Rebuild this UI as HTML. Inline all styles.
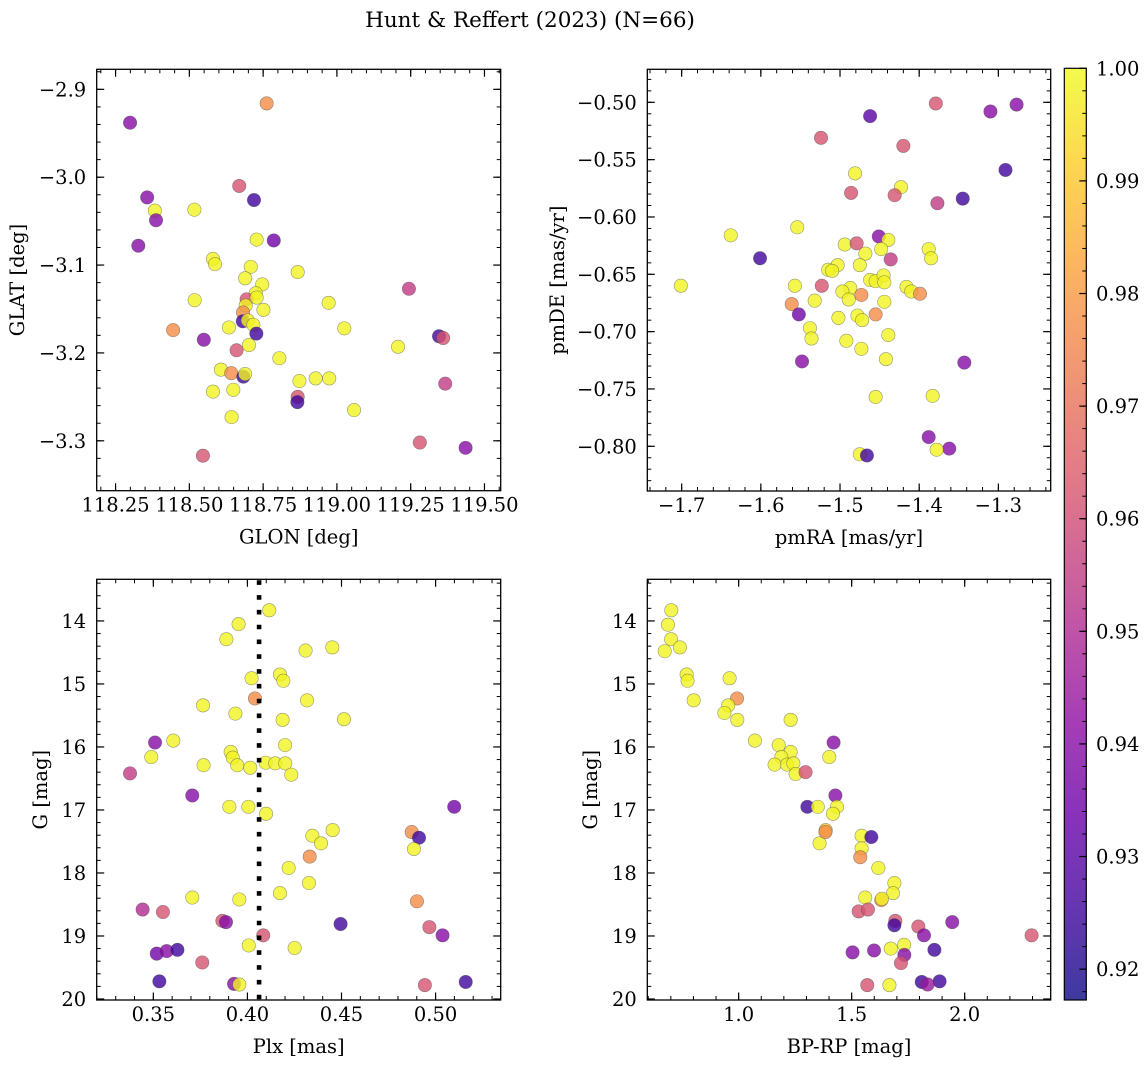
<!DOCTYPE html>
<html><head><meta charset="utf-8"><style>
html,body{margin:0;padding:0;background:#fff;}
svg{display:block;font-family:"DejaVu Serif","Liberation Serif",serif;}
</style></head><body>
<svg id="fig" width="1148" height="1068" viewBox="0 0 1148 1068" xmlns="http://www.w3.org/2000/svg">
<text x="530" y="27" font-size="21.5" text-anchor="middle">Hunt &amp; Reffert (2023) (N=66)</text>
<defs><linearGradient id="cbgrad" x1="0" y1="1" x2="0" y2="0"></linearGradient></defs>
</svg>
<script>
// ---- Panel 1 data: GLON vs GLAT ----
const p1Glon=[118.299,118.762,118.669,118.719,118.357,118.383,118.387,118.517,118.327,118.728,118.786,118.580,118.587,118.708,118.689,118.867,118.747,118.725,118.694,118.728,118.691,118.751,118.682,118.681,118.698,118.717,118.727,118.518,118.445,118.549,118.634,118.702,118.660,118.805,118.607,118.642,118.683,118.689,118.580,118.649,118.643,118.546,118.867,118.866,118.873,118.928,118.974,118.972,119.025,119.058,119.207,119.244,119.346,119.360,119.367,119.281,119.436];
const p1Glat=[-2.938,-2.916,-3.010,-3.026,-3.023,-3.038,-3.049,-3.037,-3.078,-3.071,-3.072,-3.093,-3.099,-3.102,-3.115,-3.108,-3.122,-3.132,-3.139,-3.137,-3.146,-3.151,-3.154,-3.164,-3.163,-3.168,-3.178,-3.140,-3.174,-3.185,-3.171,-3.191,-3.197,-3.206,-3.219,-3.223,-3.227,-3.224,-3.244,-3.242,-3.273,-3.317,-3.250,-3.256,-3.232,-3.229,-3.229,-3.143,-3.172,-3.265,-3.193,-3.127,-3.181,-3.183,-3.235,-3.302,-3.308];
const p1Prob=[.94,.977,.962,.925,.94,.999,.94,.999,.94,.999,.935,.999,.999,.999,.999,.999,.999,.999,.962,.999,.999,.999,.977,.925,.999,.999,.925,.999,.977,.94,.999,.999,.962,.999,.999,.977,.925,.999,.999,.999,.999,.962,.962,.925,.999,.999,.999,.999,.999,.999,.999,.955,.925,.962,.955,.962,.94];
// ---- Panel 2 data: pmRA vs pmDE ----
const p2PmRA=[-1.701,-1.638,-1.601,-1.524,-1.462,-1.379,-1.310,-1.277,-1.291,-1.345,-1.420,-1.481,-1.486,-1.423,-1.431,-1.377,-1.554,-1.451,-1.439,-1.494,-1.479,-1.468,-1.448,-1.436,-1.388,-1.385,-1.503,-1.515,-1.510,-1.475,-1.462,-1.455,-1.445,-1.444,-1.557,-1.523,-1.487,-1.497,-1.489,-1.473,-1.416,-1.410,-1.399,-1.532,-1.561,-1.552,-1.444,-1.502,-1.478,-1.472,-1.455,-1.538,-1.536,-1.492,-1.473,-1.439,-1.442,-1.548,-1.343,-1.455,-1.383,-1.388,-1.362,-1.378,-1.475,-1.466];
const p2PmDE=[-0.660,-0.616,-0.636,-0.531,-0.512,-0.501,-0.508,-0.502,-0.559,-0.584,-0.538,-0.562,-0.579,-0.574,-0.581,-0.588,-0.609,-0.617,-0.620,-0.624,-0.623,-0.632,-0.628,-0.637,-0.628,-0.636,-0.642,-0.646,-0.647,-0.642,-0.655,-0.656,-0.651,-0.657,-0.660,-0.660,-0.662,-0.665,-0.672,-0.668,-0.661,-0.665,-0.667,-0.673,-0.676,-0.685,-0.674,-0.688,-0.686,-0.690,-0.685,-0.697,-0.706,-0.708,-0.715,-0.703,-0.724,-0.726,-0.727,-0.757,-0.756,-0.792,-0.802,-0.803,-0.807,-0.808];
const p2Prob=[.999,.999,.925,.962,.93,.962,.94,.94,.925,.925,.962,.999,.962,.999,.962,.955,.999,.94,.999,.999,.962,.999,.999,.955,.999,.999,.999,.999,.999,.999,.999,.999,.999,.999,.999,.962,.999,.999,.999,.977,.999,.999,.977,.999,.977,.935,.999,.999,.999,.999,.977,.999,.999,.999,.999,.999,.999,.94,.94,.999,.999,.94,.94,.999,.999,.925];
// ---- Panel 3 data: Plx vs G ----
const p3Plx=[.4116,.3953,.3888,.4309,.4451,.4173,.4191,.4022,.4040,.4317,.3764,.3936,.4187,.4513,.3509,.3606,.3489,.4200,.3911,.3922,.3946,.3767,.4015,.4097,.4148,.4201,.4233,.3376,.3707,.3904,.4005,.4099,.4345,.4391,.4453,.4873,.4912,.4885,.5099,.4331,.4219,.4327,.4173,.3707,.3957,.4901,.3443,.3551,.3867,.3886,.4495,.4967,.5037,.4084,.4007,.4251,.3518,.3571,.3628,.3760,.3532,.3929,.3957,.4943,.5160];
const p3G=[13.83,14.05,14.29,14.47,14.42,14.85,14.95,14.91,15.23,15.26,15.34,15.47,15.57,15.56,15.93,15.90,16.16,15.97,16.08,16.17,16.29,16.29,16.33,16.25,16.26,16.26,16.44,16.42,16.77,16.95,16.95,17.06,17.41,17.53,17.32,17.35,17.44,17.62,16.95,17.74,17.92,18.16,18.32,18.39,18.42,18.45,18.58,18.62,18.76,18.78,18.81,18.86,18.99,18.99,19.15,19.19,19.28,19.24,19.22,19.42,19.72,19.76,19.77,19.78,19.73];
const p3Prob=[.999,.999,.999,.999,.999,.999,.999,.999,.977,.999,.999,.999,.999,.999,.94,.999,.999,.999,.999,.999,.999,.999,.999,.999,.999,.999,.999,.955,.94,.999,.999,.999,.999,.999,.999,.977,.925,.999,.935,.977,.999,.999,.999,.999,.999,.977,.95,.962,.962,.94,.925,.962,.94,.962,.999,.999,.935,.94,.925,.962,.925,.94,.999,.962,.925];
const parallaxRef=[0.4062];
// ---- Panel 4 data: BP-RP vs G ----
const p4BpRp=[.702,.687,.701,.740,.673,.770,.774,.960,.801,.993,.954,.937,.994,1.230,1.072,1.177,1.420,1.401,1.230,1.189,1.159,1.214,1.242,1.252,1.296,1.428,1.304,1.350,1.435,1.417,1.358,1.385,1.384,1.544,1.587,1.544,1.538,1.618,1.689,1.683,1.560,1.631,1.634,1.531,1.572,1.693,1.689,1.795,1.945,1.820,2.296,1.504,1.599,1.673,1.732,1.733,1.718,1.866,1.569,1.667,1.810,1.889,1.836];
const p4G=[13.83,14.06,14.29,14.42,14.48,14.85,14.95,14.91,15.26,15.23,15.34,15.46,15.57,15.57,15.90,15.97,15.93,16.16,16.08,16.16,16.28,16.28,16.26,16.43,16.40,16.77,16.95,16.95,16.95,17.06,17.53,17.32,17.35,17.41,17.43,17.61,17.75,17.92,18.16,18.32,18.39,18.43,18.41,18.61,18.58,18.76,18.83,18.85,18.78,18.99,18.99,19.26,19.23,19.20,19.14,19.30,19.43,19.22,19.78,19.78,19.73,19.72,19.77];
const p4Prob=[.999,.999,.999,.999,.999,.999,.999,.999,.999,.977,.999,.999,.999,.999,.999,.999,.94,.999,.999,.999,.999,.999,.999,.999,.962,.94,.925,.999,.999,.999,.999,.99,.977,.999,.925,.999,.977,.999,.999,.999,.999,.977,.999,.962,.962,.962,.925,.962,.94,.94,.962,.94,.94,.999,.999,.94,.962,.925,.962,.999,.925,.925,.945];
// ---- tick labels ----
const p1XTicks=[118.25,118.50,118.75,119.00,119.25,119.50];
const p1YTicks=[-2.9,-3.0,-3.1,-3.2,-3.3];
const p2XTicks=[-1.7,-1.6,-1.5,-1.4,-1.3];
const p2YTicks=[-0.50,-0.55,-0.60,-0.65,-0.70,-0.75,-0.80];
const p3XTicks=[0.35,0.40,0.45,0.50];
const p4XTicks=[1.0,1.5,2.0];
const gTicks=[14,15,16,17,18,19,20];
const cbTicks=[0.92,0.93,0.94,0.95,0.96,0.97,0.98,0.99,1.00];

const FS=19.5;
const NS="http://www.w3.org/2000/svg";
const svg=document.getElementById('fig');
function mk(tag,attrs,parent){const e=document.createElementNS(NS,tag);for(const k in attrs)e.setAttribute(k,attrs[k]);(parent||svg).appendChild(e);return e;}
const CMIN=0.91726, CMAX=1.0;
const plasma=[[13,8,135],[65,4,157],[106,0,168],[143,13,164],[177,42,144],[204,71,120],[225,100,98],[242,132,75],[252,166,54],[252,206,37],[240,249,33]];
function cmap(t){t=Math.max(0,Math.min(1,t));const f=t*10,i=Math.min(9,Math.floor(f)),r=f-i;const a=plasma[i],b=plasma[i+1];return 'rgb('+[0,1,2].map(k=>Math.round(a[k]+(b[k]-a[k])*r)).join(',')+')';}
function colorOf(p){return cmap((p-CMIN)/(CMAX-CMIN));}
function fmt(v,d){const s=v.toFixed(d);return s.replace('-','\u2212');}

function panel(cfg){
  const g=mk('g',{});
  
  
  const [x0,y0,x1,y1]=cfg.box;
  const sx=v=>x0+(v-cfg.xd[0])/(cfg.xd[1]-cfg.xd[0])*(x1-x0);
  const sy=cfg.yInv?(v=>y0+(v-cfg.yd[0])/(cfg.yd[1]-cfg.yd[0])*(y1-y0)):(v=>y1-(v-cfg.yd[0])/(cfg.yd[1]-cfg.yd[0])*(y1-y0));
  const pts=mk('g',{},g);
  
  
  for(let i=0;i<cfg.xs.length;i++){
    const c=mk('circle',{cx:sx(cfg.xs[i]).toFixed(2),cy:sy(cfg.ys[i]).toFixed(2),r:6.7,fill:colorOf(cfg.ps[i]),'fill-opacity':0.8,stroke:'rgba(70,70,70,0.55)','stroke-width':0.6},pts);
    
    
  }
  if(cfg.vline){
    for(const v of cfg.vline){
      const l=mk('line',{x1:sx(v),x2:sx(v),y1:y0+1,y2:y1,stroke:'#000','stroke-width':4.6,'stroke-dasharray':'4.6 10.2'},g);
      
      
    }
  }
  const tk=mk('g',{stroke:'#000','stroke-width':1},g);
  function ticksX(step,len){const a=Math.ceil(cfg.xd[0]/step-1e-9),b=Math.floor(cfg.xd[1]/step+1e-9);for(let i=a;i<=b;i++){const x=sx(i*step);mk('line',{x1:x,x2:x,y1:y1,y2:y1-len},tk);mk('line',{x1:x,x2:x,y1:y0,y2:y0+len},tk);}}
  function ticksY(step,len){const lo=Math.min(...cfg.yd),hi=Math.max(...cfg.yd);const a=Math.ceil(lo/step-1e-9),b=Math.floor(hi/step+1e-9);for(let i=a;i<=b;i++){const y=sy(i*step);mk('line',{x1:x0,x2:x0+len,y1:y,y2:y},tk);mk('line',{x1:x1,x2:x1-len,y1:y,y2:y},tk);}}
  ticksX(cfg.xMinor,4);ticksY(cfg.yMinor,4);
  const mj=mk('g',{stroke:'#000','stroke-width':1.2},g);
  for(const v of cfg.xt){const x=sx(v);mk('line',{x1:x,x2:x,y1:y1,y2:y1-7.5},mj);mk('line',{x1:x,x2:x,y1:y0,y2:y0+7.5},mj);}
  for(const v of cfg.yt){const y=sy(v);mk('line',{x1:x0,x2:x0+7.5,y1:y,y2:y},mj);mk('line',{x1:x1,x2:x1-7.5,y1:y,y2:y},mj);}
  const fr=mk('rect',{x:x0,y:y0,width:x1-x0,height:y1-y0,fill:'none',stroke:'#000','stroke-width':1.3},g);
  
  
  for(const v of cfg.xt){const t=mk('text',{x:sx(v),y:y1+21,'font-size':FS,'text-anchor':'middle'},g);t.textContent=fmt(v,cfg.xdec);
    
    }
  for(const v of cfg.yt){const t=mk('text',{x:x0-10.5,y:sy(v)+7,'font-size':FS,'text-anchor':'end'},g);t.textContent=fmt(v,cfg.ydec);
    
    }
  const xl=mk('text',{x:(x0+x1)/2,y:y1+53,'font-size':FS,'text-anchor':'middle'},g);xl.textContent=cfg.xlabel;
  
  
  const yc=(y0+y1)/2;
  const yl=mk('text',{x:cfg.ylx,y:yc,'font-size':FS,'text-anchor':'middle',transform:'rotate(-90 '+cfg.ylx+' '+yc+')'},g);yl.textContent=cfg.ylabel;
  
  
}
panel({name:'glon-glat-panel',box:[96.7,69.3,500.7,490.7],xd:[118.186,119.555],yd:[-3.3568,-2.8772],xs:p1Glon,ys:p1Glat,ps:p1Prob,xt:p1XTicks,yt:p1YTicks,xMinor:0.05,yMinor:0.02,xdec:2,ydec:1,xlabel:'GLON [deg]',ylabel:'GLAT [deg]',ylx:24});
panel({name:'proper-motion-panel',box:[647.3,69.3,1050.7,491],xd:[-1.7434,-1.2339],yd:[-0.8390,-0.4712],xs:p2PmRA,ys:p2PmDE,ps:p2Prob,xt:p2XTicks,yt:p2YTicks,xMinor:0.02,yMinor:0.01,xdec:1,ydec:2,xlabel:'pmRA [mas/yr]',ylabel:'pmDE [mas/yr]',ylx:564});
panel({name:'parallax-magnitude-panel',box:[96.7,579.3,500.7,1000],xd:[0.3199,0.5346],yd:[13.339,20.016],yInv:true,xs:p3Plx,ys:p3G,ps:p3Prob,xt:p3XTicks,yt:gTicks,xMinor:0.01,yMinor:0.2,xdec:2,ydec:0,xlabel:'Plx [mas]',ylabel:'G [mag]',ylx:47});
panel({name:'color-magnitude-panel',box:[647.3,579.3,1050.7,1000],xd:[0.5959,2.3805],yd:[13.339,20.016],yInv:true,xs:p4BpRp,ys:p4G,ps:p4Prob,xt:p4XTicks,yt:gTicks,xMinor:0.1,yMinor:0.2,xdec:1,ydec:0,xlabel:'BP-RP [mag]',ylabel:'G [mag]',ylx:597});
// parallax reference line drawn inside panel 3
(function(){
  const x0=96.7,x1=500.7,y0=579.3,y1=1000,d0=0.3199,d1=0.5346;
  for(const v of parallaxRef){
    const x=x0+(v-d0)/(d1-d0)*(x1-x0);
    const l=mk('line',{x1:x,x2:x,y1:y0+1,y2:y1,stroke:'#000','stroke-width':4.6,'stroke-dasharray':'4.6 10.2'});
    
    
  }
})();

const grad=document.getElementById('cbgrad');
for(let i=0;i<=20;i++){mk('stop',{offset:(i/20),'stop-color':cmap(i/20),'stop-opacity':0.8},grad);}
const cb=mk('g',{});


const cbx0=1064.3,cbx1=1086.3,cby0=68.3,cby1=1000;
mk('rect',{x:cbx0,y:cby0,width:cbx1-cbx0,height:cby1-cby0,fill:'url(#cbgrad)'},cb);
const cy=v=>cby1-(v-CMIN)/(CMAX-CMIN)*(cby1-cby0);
for(let i=Math.ceil(CMIN/0.002-1e-9);i*0.002<=CMAX+1e-9;i++){const y=cy(i*0.002);mk('line',{x1:cbx1,x2:cbx1-4,y1:y,y2:y,stroke:'#000','stroke-width':1},cb);}
for(const v of cbTicks){const y=cy(v);mk('line',{x1:cbx1,x2:cbx1-7,y1:y,y2:y,stroke:'#000','stroke-width':1.2},cb);
  const t=mk('text',{x:1096,y:y+7,'font-size':FS},cb);t.textContent=v.toFixed(2);
  
  }
mk('rect',{x:cbx0,y:cby0,width:cbx1-cbx0,height:cby1-cby0,fill:'none',stroke:'#000','stroke-width':1.2},cb);
</script>
</body></html>
